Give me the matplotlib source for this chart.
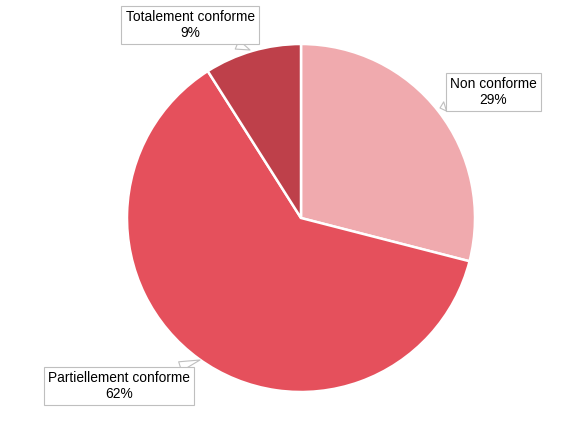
import matplotlib.pyplot as plt

plt.rcParams['font.family'] = ['Liberation Sans', 'DejaVu Sans']

labels = ['Non conforme', 'Partiellement conforme', 'Totalement conforme']
values = [29, 62, 9]
colors = ['#F0AAAE', '#E5505C', '#BE404A']

fig = plt.figure(figsize=(5.77, 4.38), dpi=100)
ax = fig.add_axes([0, 0, 1, 1])

ax.pie(values, colors=colors, startangle=90, counterclock=False,
       center=(301, 220), radius=174, frame=True,
       wedgeprops=dict(edgecolor='white', linewidth=1.8))
ax.set_xlim(0, 577)
ax.set_ylim(0, 438)
ax.set_aspect('equal')
ax.axis('off')

# label box centres and pointer targets (pixel coords, y from bottom)
boxes = [(493, 346), (119, 52), (190, 413)]
targets = [(440, 330), (200, 78), (250, 388)]

for lab, v, b, t in zip(labels, values, boxes, targets):
    ax.annotate(f'{lab}\n{v}%', xy=t, xytext=b, ha='center', va='center',
                fontsize=9.9, linespacing=1.2,
                bbox=dict(boxstyle='square,pad=0.3', fc='white', ec='#BFBFBF', lw=0.8),
                arrowprops=dict(arrowstyle='wedge,tail_width=0.7', fc='white',
                                ec='#BFBFBF', lw=0.8, shrinkA=0, shrinkB=0))

fig.savefig('out.png', dpi=100)
